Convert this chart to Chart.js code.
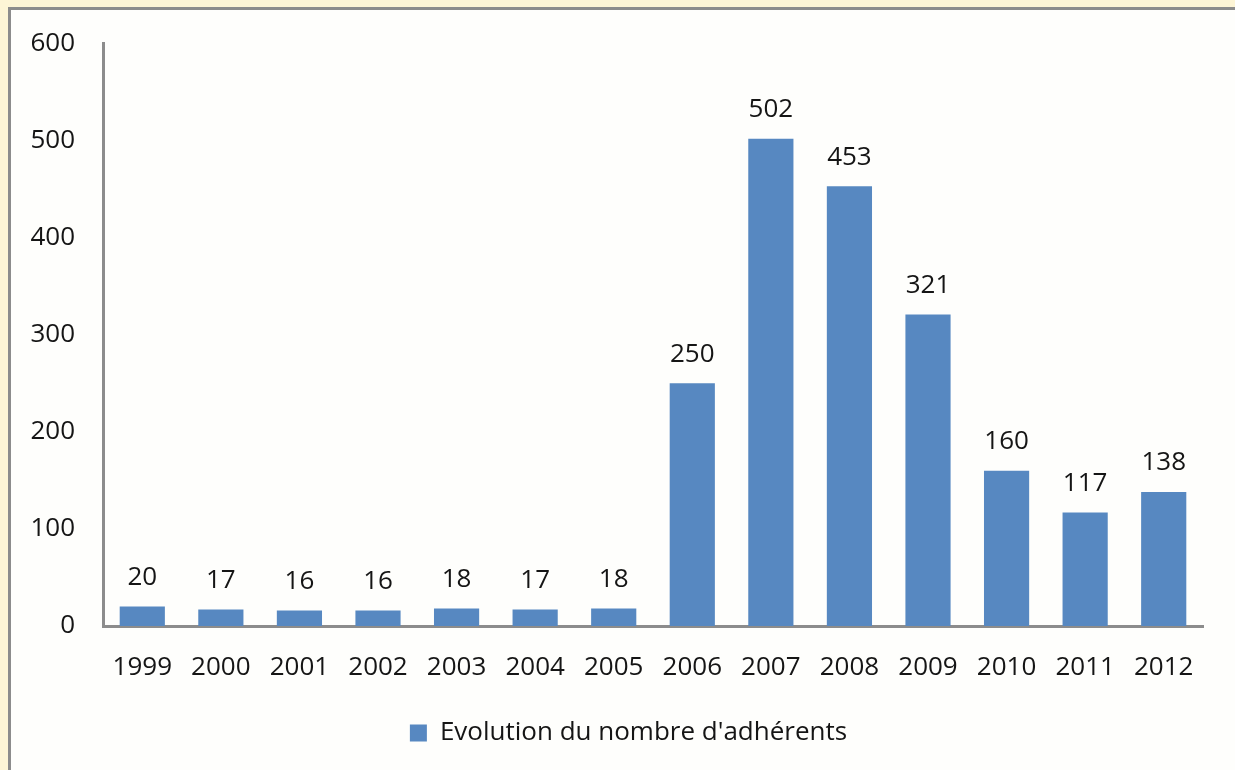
<!DOCTYPE html>
<html>
<head>
<meta charset="utf-8">
<script src="https://cdn.jsdelivr.net/npm/chart.js@4"></script>
<style>
  html, body { margin: 0; padding: 0; width: 1235px; height: 770px; overflow: hidden; background: #FDF5D6; }
  #panel { position: absolute; left: 8px; top: 7px; width: 1300px; height: 820px; border: 3px solid #8C8C8C; background: #FEFEFC; }
  #c { position: absolute; left: 0; top: 0; }
</style>
</head>
<body>
<div id="panel"></div>
<canvas id="c" width="1235" height="770"></canvas>
<script>
const categories = ['1999','2000','2001','2002','2003','2004','2005','2006','2007','2008','2009','2010','2011','2012'];
const adherents = [20, 17, 16, 16, 18, 17, 18, 250, 502, 453, 321, 160, 117, 138];
const seriesLabel = "Evolution du nombre d'adhérents";
const yTicks = [0, 100, 200, 300, 400, 500, 600];

const FONT = '"Open Sans", "DejaVu Sans", sans-serif';
const TXT = '#151515';

const dataLabels = {
  id: 'dataLabels',
  afterDatasetsDraw(chart) {
    const ctx = chart.ctx;
    const meta = chart.getDatasetMeta(0);
    ctx.save();
    ctx.font = '26px ' + FONT;
    ctx.fillStyle = TXT;
    ctx.textAlign = 'center';
    ctx.textBaseline = 'middle';
    meta.data.forEach((bar, i) => {
      ctx.fillText(String(chart.data.datasets[0].data[i]), bar.x, bar.y - 29);
    });
    ctx.restore();
  }
};

const shiftLegend = {
  id: 'shiftLegend',
  afterLayout(chart) {
    if (chart.legend) { chart.legend.left += 27; chart.legend.right += 27; }
  }
};

new Chart(document.getElementById('c'), {
  type: 'bar',
  data: {
    labels: categories,
    datasets: [{
      label: seriesLabel,
      data: adherents,
      backgroundColor: '#5788C1',
      borderWidth: 0,
      categoryPercentage: 1.0,
      barPercentage: 0.575
    }]
  },
  options: {
    responsive: false,
    animation: false,
    layout: { padding: { left: 0, right: 32, top: 41, bottom: 14 } },
    plugins: {
      legend: {
        position: 'bottom',
        labels: {
          boxWidth: 17, boxHeight: 17, padding: 10,
          color: TXT,
          font: { family: FONT, size: 26 }
        }
      },
      tooltip: { enabled: false }
    },
    scales: {
      x: {
        grid: { display: false, drawTicks: false },
        border: { display: true, color: '#8C8C8C', width: 3 },
        ticks: { color: TXT, font: { family: FONT, size: 26 }, padding: 26, maxRotation: 0, autoSkip: false },
        afterFit(scale) {
          const lh = scale.chart.legend ? scale.chart.legend.height : 0;
          scale.height = 770 - 626 - lh - 14;
        }
      },
      y: {
        min: 0, max: 600,
        grid: { display: false, drawTicks: false },
        border: { display: true, color: '#8C8C8C', width: 3 },
        afterBuildTicks(scale) { scale.ticks = yTicks.map(v => ({ value: v })); },
        ticks: { color: TXT, font: { family: FONT, size: 26 }, padding: 28 },
        afterFit(scale) { scale.width = 103; }
      }
    }
  },
  plugins: [dataLabels, shiftLegend]
});
</script>
</body>
</html>
